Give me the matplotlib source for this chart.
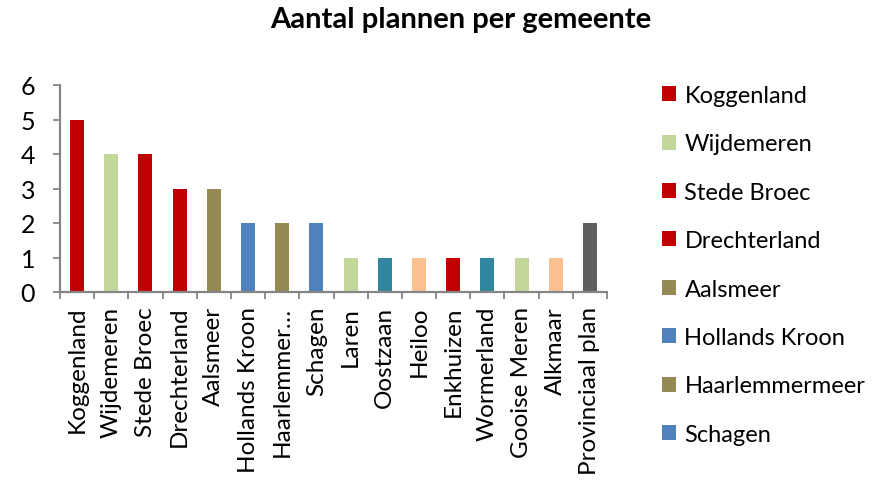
import numpy as np
import matplotlib
matplotlib.use("Agg")
import matplotlib.pyplot as plt
from matplotlib.patches import Patch

#  DATA
gemeenten = ["Koggenland", "Wijdemeren", "Stede Broec", "Drechterland", "Aalsmeer",
             "Hollands Kroon", "Haarlemmermeer", "Schagen", "Laren", "Oostzaan",
             "Heiloo", "Enkhuizen", "Wormerland", "Gooise Meren", "Alkmaar",
             "Provinciaal plan"]
tick_labels = ["Koggenland", "Wijdemeren", "Stede Broec", "Drechterland", "Aalsmeer",
               "Hollands Kroon", "Haarlemmer…", "Schagen", "Laren", "Oostzaan",
               "Heiloo", "Enkhuizen", "Wormerland", "Gooise Meren", "Alkmaar",
               "Provinciaal plan"]
aantal = [5, 4, 4, 3, 3, 2, 2, 2, 1, 1, 1, 1, 1, 1, 1, 2]
kleuren = ["#C00000", "#C3D69B", "#C00000", "#C00000", "#948A54",
           "#4F81BD", "#948A54", "#4F81BD", "#C3D69B", "#31859C",
           "#FAC090", "#C00000", "#31859C", "#C3D69B", "#FAC090",
           "#5F5F5F"]
n_legend = 8   # legenda toont alleen de eerste 8

#  PLOT
plt.rcParams['font.family'] = ['Lato', 'DejaVu Sans']
FS = 17.5
AXIS_GREY = "#868686"

fig = plt.figure(figsize=(8.92, 4.81), dpi=100)
ax = fig.add_axes([60/892, 1 - 293/481, 547/892, 207/481])

x = np.arange(len(gemeenten))
bars = ax.bar(x, aantal, width=0.41, color=kleuren)

ax.set_xlim(-0.5, len(gemeenten) - 0.5)
ax.set_ylim(0, 6)
ax.set_yticks(range(0, 7))

ax.set_xticks(x)
ax.set_xticklabels(tick_labels, rotation=90, fontsize=FS)
ax.set_xticks(np.arange(-0.5, len(gemeenten)), minor=True)
ax.tick_params(axis='x', which='major', length=0, pad=10)
ax.tick_params(axis='x', which='minor', length=5, width=1.3, color=AXIS_GREY, direction='out')
ax.tick_params(axis='y', length=5, width=1.3, color=AXIS_GREY, direction='out',
               pad=13, labelsize=18)

for side in ['top', 'right']:
    ax.spines[side].set_visible(False)
for side in ['left', 'bottom']:
    ax.spines[side].set_color(AXIS_GREY)
    ax.spines[side].set_linewidth(1.6)

fig.text(461/892, 1 - 20/481, "Aantal plannen per gemeente", ha='center', va='center',
         fontsize=21, fontweight='bold')

handles = [Patch(facecolor=kleuren[i], edgecolor='none') for i in range(n_legend)]
fig.legend(handles, gemeenten[:n_legend], loc='upper left',
           bbox_to_anchor=(662/892, 1 - 86/481), frameon=False, fontsize=17,
           handlelength=0.6, handleheight=0.6, handletextpad=0.35,
           labelspacing=1.16, borderaxespad=0, borderpad=0)

plt.savefig("out.png", dpi=100)
